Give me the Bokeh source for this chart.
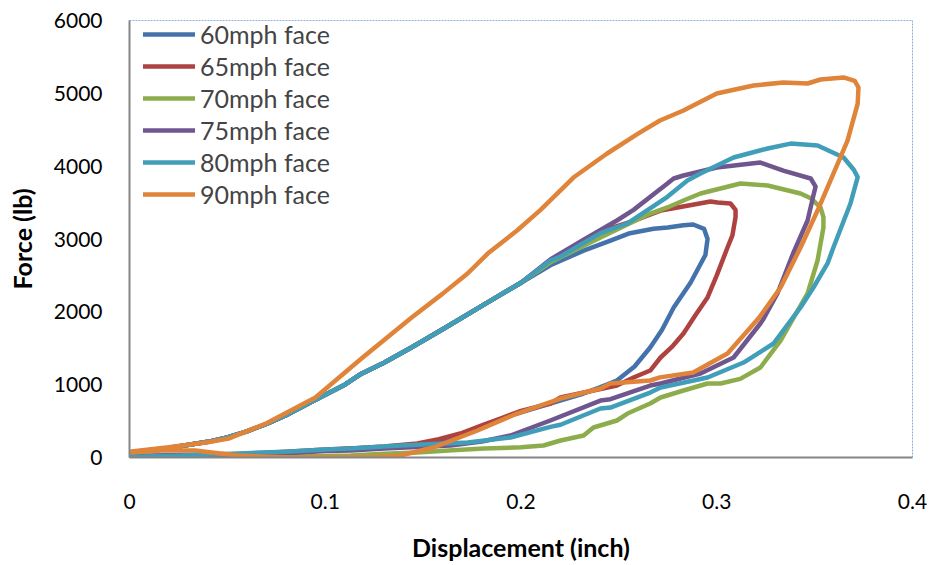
from bokeh.plotting import figure
from bokeh.models import Range1d, FixedTicker, Legend, LegendItem
from bokeh.embed import file_html
from bokeh.resources import INLINE

# Force-displacement loops for face impacts at several speeds
series_names = ["60mph face", "65mph face", "70mph face", "75mph face", "80mph face", "90mph face"]
series_colors = ["#4472AA", "#AD4240", "#8DAD4C", "#70568F", "#419EB8", "#E0843A"]

x_ticks = [0, 0.1, 0.2, 0.3, 0.4]
x_tick_labels = ["0", "0.1", "0.2", "0.3", "0.4"]
y_ticks = [0, 1000, 2000, 3000, 4000, 5000, 6000]

# loading branch shared by the 60-80 mph tests (inch, lb)
load_disp = [0, 0.02, 0.04, 0.05, 0.06, 0.07, 0.08, 0.0914, 0.1, 0.11, 0.1185, 0.13, 0.144, 0.16, 0.183, 0.2]
load_force = [70, 130, 215, 275, 360, 460, 580, 740, 860, 1000, 1150, 1300, 1510, 1760, 2130, 2400]

disp_60 = [0.215, 0.232, 0.2457, 0.255, 0.2677, 0.275, 0.283, 0.288, 0.2935, 0.2953, 0.2942, 0.2866,
           0.278, 0.272, 0.266, 0.258, 0.249, 0.24, 0.232, 0.22, 0.2064, 0.195, 0.1844, 0.175, 0.164,
           0.155, 0.147, 0.13, 0.113, 0.1, 0.09, 0.08, 0.06, 0.05, 0.03, 0.01, 0]
force_60 = [2640, 2840, 2979, 3075, 3140, 3158, 3190, 3199, 3140, 3000, 2780, 2400,
            2060, 1750, 1510, 1250, 1057, 960, 879, 780, 673, 580, 480, 370, 261,
            200, 165, 140, 124, 100, 80, 60, 40, 30, 20, 10, 10]

disp_65 = [0.215, 0.232, 0.2422, 0.2575, 0.2713, 0.28, 0.2968, 0.3004, 0.307, 0.3096, 0.3096, 0.308,
           0.3055, 0.3, 0.2953, 0.289, 0.283, 0.2775, 0.2713, 0.266, 0.2575, 0.249, 0.237, 0.2202,
           0.215, 0.2, 0.1895, 0.18, 0.169, 0.158, 0.147, 0.13, 0.113, 0.1, 0.08, 0.06, 0.04, 0.02, 0]
force_65 = [2700, 2979, 3117, 3250, 3391, 3433, 3515, 3501, 3487, 3400, 3300, 3050,
            2883, 2500, 2197, 1950, 1702, 1530, 1373, 1194, 1098, 988, 920, 824,
            741, 640, 535, 440, 329, 250, 192, 150, 124, 110, 80, 50, 30, 20, 20]

disp_70 = [0.215, 0.2406, 0.266, 0.2748, 0.283, 0.2917, 0.3121, 0.326, 0.3428, 0.348, 0.353, 0.3545,
           0.3545, 0.3515, 0.3464, 0.339, 0.3326, 0.3223, 0.312, 0.302, 0.2953, 0.283, 0.2713, 0.266,
           0.2544, 0.249, 0.237, 0.232, 0.2202, 0.2115, 0.2, 0.181, 0.165, 0.147, 0.13, 0.113, 0.1,
           0.08, 0.06, 0.04, 0.02, 0]
force_70 = [2680, 3021, 3350, 3433, 3529, 3625, 3762, 3735, 3625, 3560, 3433, 3300,
            3158, 2705, 2252, 1908, 1606, 1236, 1080, 1016, 1016, 920, 824, 741,
            604, 508, 412, 302, 233, 165, 140, 124, 100, 69, 50, 27, 20,
            10, 10, 10, 5, 5]

disp_75 = [0.215, 0.232, 0.249, 0.2575, 0.2748, 0.278, 0.283, 0.3, 0.3223, 0.334, 0.348, 0.3505,
           0.3494, 0.3464, 0.339, 0.331, 0.324, 0.3223, 0.3086, 0.2917, 0.2713, 0.266, 0.2457,
           0.2406, 0.215, 0.1946, 0.18, 0.164, 0.13, 0.113, 0.1, 0.08, 0.06, 0.04, 0.02, 0]
force_75 = [2720, 2990, 3254, 3400, 3762, 3831, 3872, 3982, 4050, 3940, 3831, 3720,
            3600, 3254, 2801, 2252, 1908, 1840, 1373, 1153, 1016, 988, 800,
            782, 508, 302, 220, 165, 124, 96, 90, 60, 40, 40, 30, 20]

disp_80 = [0.215, 0.2202, 0.2406, 0.2544, 0.2748, 0.285, 0.2917, 0.3086, 0.326, 0.3377, 0.3515, 0.3648,
           0.37, 0.372, 0.3683, 0.3596, 0.3566, 0.3494, 0.3428, 0.329, 0.3137, 0.2953, 0.2713,
           0.266, 0.2457, 0.2406, 0.2202, 0.215, 0.1946, 0.1727, 0.1384, 0.113, 0.1, 0.08, 0.06,
           0.04, 0.02, 0]
force_80 = [2705, 2760, 3080, 3213, 3580, 3803, 3900, 4119, 4243, 4310, 4284, 4119,
            3950, 3850, 3487, 2883, 2664, 2334, 2060, 1565, 1304, 1098, 961,
            892, 686, 673, 450, 420, 275, 206, 165, 124, 110, 80, 60,
            40, 20, 10]

disp_90 = [0, 0.02, 0.04, 0.0506, 0.07, 0.095, 0.1185, 0.144, 0.16, 0.1727, 0.183, 0.198, 0.21,
           0.2268, 0.244, 0.26, 0.271, 0.283, 0.3, 0.3188, 0.334, 0.3464, 0.353, 0.3648, 0.3705,
           0.3724, 0.372, 0.3668, 0.3596, 0.3515, 0.3428, 0.3326, 0.3215, 0.3055, 0.288, 0.271,
           0.266, 0.2457, 0.2406, 0.2202, 0.198, 0.1778, 0.1553, 0.1384, 0.1216, 0.1, 0.0848,
           0.07, 0.0557, 0.042, 0.0337, 0.0163, 0.001]
force_90 = [80, 140, 210, 260, 470, 824, 1360, 1920, 2250, 2526, 2800, 3117, 3400,
            3844, 4174, 4450, 4627, 4764, 4998, 5108, 5149, 5135, 5190, 5218, 5170,
            5080, 4860, 4352, 3899, 3391, 2883, 2334, 1915, 1428, 1167, 1100,
            1057, 1016, 947, 810, 604, 371, 137, 27, 0, 0, 0,
            10, 27, 69, 96, 96, 69]

curves_x = [load_disp + disp_60, load_disp + disp_65, load_disp + disp_70,
            load_disp + disp_75, load_disp + disp_80, disp_90]
curves_y = [load_force + force_60, load_force + force_65, load_force + force_70,
            load_force + force_75, load_force + force_80, force_90]

FONT = "Lato"

p = figure(width=935, height=565, output_backend="svg", toolbar_location=None,
           x_range=Range1d(0, 0.4), y_range=Range1d(0, 6000),
           min_border_left=129, min_border_right=23, min_border_top=20, min_border_bottom=108)
p.background_fill_color = "white"
p.border_fill_color = "white"
p.grid.visible = False
p.outline_line_color = "#8EB0DC"
p.outline_line_width = 1
p.outline_line_dash = "2 1"

items = []
for name, color, xs, ys in zip(series_names, series_colors, curves_x, curves_y):
    r = p.line(xs, ys, line_color=color, line_width=4.5, line_join="round", line_cap="round")
    items.append(LegendItem(label=name, renderers=[r]))

for ax in (p.xaxis[0], p.yaxis[0]):
    ax.axis_line_color = "#868686"
    ax.axis_line_width = 2
    ax.major_tick_line_color = None
    ax.minor_tick_line_color = None
    ax.major_label_text_font = FONT
    ax.major_label_text_font_size = "21px"
    ax.major_label_text_color = "black"
    ax.axis_label_text_font = FONT
    ax.axis_label_text_font_style = "bold"
    ax.axis_label_text_font_size = "25px"
    ax.axis_label_text_color = "black"

p.xaxis.ticker = FixedTicker(ticks=x_ticks)
p.xaxis.major_label_overrides = {t: s for t, s in zip(x_ticks, x_tick_labels)}
p.xaxis.axis_label = "Displacement (inch)"
p.xaxis.major_label_standoff = 30
p.xaxis.axis_label_standoff = 20

p.yaxis.ticker = FixedTicker(ticks=y_ticks)
p.yaxis.axis_label = "Force (lb)"
p.yaxis.major_label_standoff = 21
p.yaxis.axis_label_standoff = 14

# legend anchored by its lower-left corner, in pixels from the frame's lower-left
legend = Legend(items=items, location=(14, 248), padding=0, margin=0,
                border_line_color=None, background_fill_alpha=0,
                label_text_font=FONT, label_text_font_size="25px",
                glyph_width=52, glyph_height=30, label_height=30,
                label_standoff=5, spacing=2)
p.add_layout(legend)

open("out.html", "w").write(file_html(p, INLINE))
